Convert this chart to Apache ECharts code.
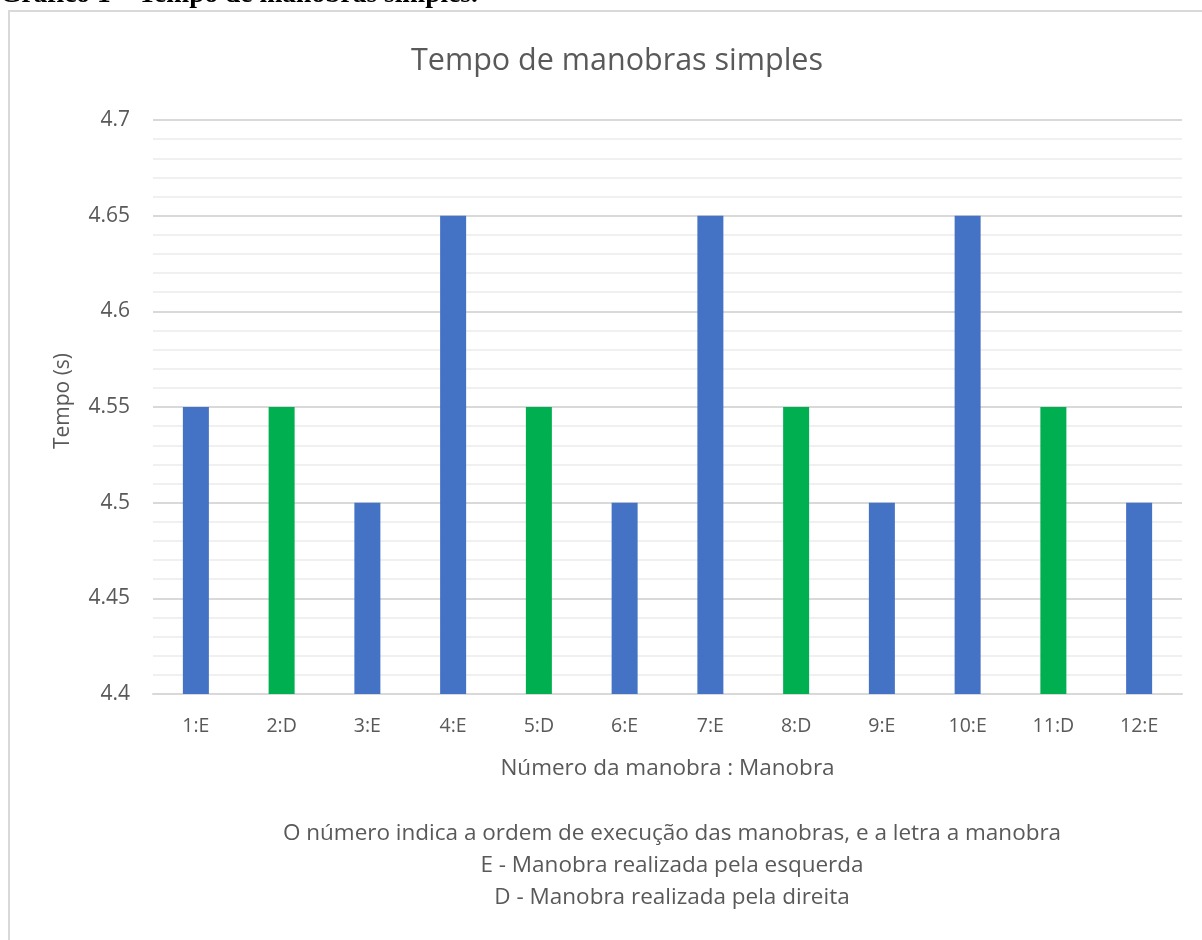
<!DOCTYPE html>
<html>
<head>
<meta charset="utf-8">
<script src="https://cdn.jsdelivr.net/npm/echarts@6/dist/echarts.min.js"></script>
<style>
  html, body { margin: 0; padding: 0; background: #fff; }
  #chart { width: 1202px; height: 940px; }
</style>
</head>
<body>
<div id="chart"></div>
<script>
// Manoeuvre order : side (E = esquerda, D = direita)
const categories = ['1:E', '2:D', '3:E', '4:E', '5:D', '6:E', '7:E', '8:D', '9:E', '10:E', '11:D', '12:E'];
// Time of each manoeuvre, seconds
const tempos = [4.55, 4.55, 4.5, 4.65, 4.55, 4.5, 4.65, 4.55, 4.5, 4.65, 4.55, 4.5];
const yTicks = [4.4, 4.45, 4.5, 4.55, 4.6, 4.65, 4.7];
const notes = [
  'O número indica a ordem de execução das manobras, e a letra a manobra',
  'E - Manobra realizada pela esquerda',
  'D - Manobra realizada pela direita'
];

const BLUE = '#4472C4';
const GREEN = '#00B050';
const FONT = '"Open Sans", sans-serif';

const chart = echarts.init(document.getElementById('chart'), null, { renderer: 'canvas' });

chart.setOption({
  animation: false,
  backgroundColor: '#fff',
  title: [
    {
      text: 'Tempo de manobras simples',
      left: 612, top: 41, textAlign: 'center',
      textStyle: { fontFamily: FONT, fontSize: 30.5, fontWeight: 'normal', color: '#595959' }
    },
    {
      text: notes.join('\n'),
      left: 667, top: 813, textAlign: 'center',
      textStyle: { fontFamily: FONT, fontSize: 22.5, fontWeight: 'normal', color: '#595959', lineHeight: 32, align: 'center' }
    }
  ],
  graphic: [
    {
      type: 'rect', silent: true,
      shape: { x: 9, y: 11, width: 1210, height: 950 },
      style: { fill: 'none', stroke: '#d9d9d9', lineWidth: 2 }
    },
    {
      type: 'text', left: 0, top: -19, silent: true,
      style: { text: 'Gráfico 1 – Tempo de manobras simples.', font: 'bold 27.5px "Liberation Serif", serif', fill: '#000' }
    }
  ],
  grid: { left: 153, right: 20, top: 120, bottom: 246, containLabel: false },
  xAxis: {
    type: 'category',
    data: categories,
    name: 'Número da manobra : Manobra',
    nameLocation: 'middle',
    nameGap: 63,
    nameTextStyle: { fontFamily: FONT, fontSize: 22.5, color: '#595959' },
    axisLine: { lineStyle: { color: '#d9d9d9', width: 2 } },
    axisTick: { show: false },
    axisLabel: { fontFamily: FONT, fontSize: 19.5, color: '#595959', margin: 22 }
  },
  yAxis: {
    type: 'value',
    min: yTicks[0],
    max: yTicks[yTicks.length - 1],
    interval: 0.05,
    name: 'Tempo (s)',
    nameLocation: 'middle',
    nameGap: 79,
    nameRotate: 90,
    nameTextStyle: { fontFamily: FONT, fontSize: 21, color: '#595959', padding: [0, 0, 0, 12] },
    axisLine: { show: false },
    axisTick: { show: false },
    axisLabel: {
      fontFamily: FONT, fontSize: 21, color: '#595959', margin: 23,
      formatter: v => String(parseFloat(v.toFixed(2)))
    },
    splitLine: { lineStyle: { color: '#d9d9d9', width: 2 } },
    minorTick: { show: false, splitNumber: 5 },
    minorSplitLine: { show: true, lineStyle: { color: '#f0f0f0', width: 2 } }
  },
  series: [{
    type: 'bar',
    data: tempos.map((v, i) => ({
      value: v,
      itemStyle: { color: categories[i].endsWith('D') ? GREEN : BLUE }
    })),
    barWidth: 26
  }]
});
</script>
</body>
</html>
